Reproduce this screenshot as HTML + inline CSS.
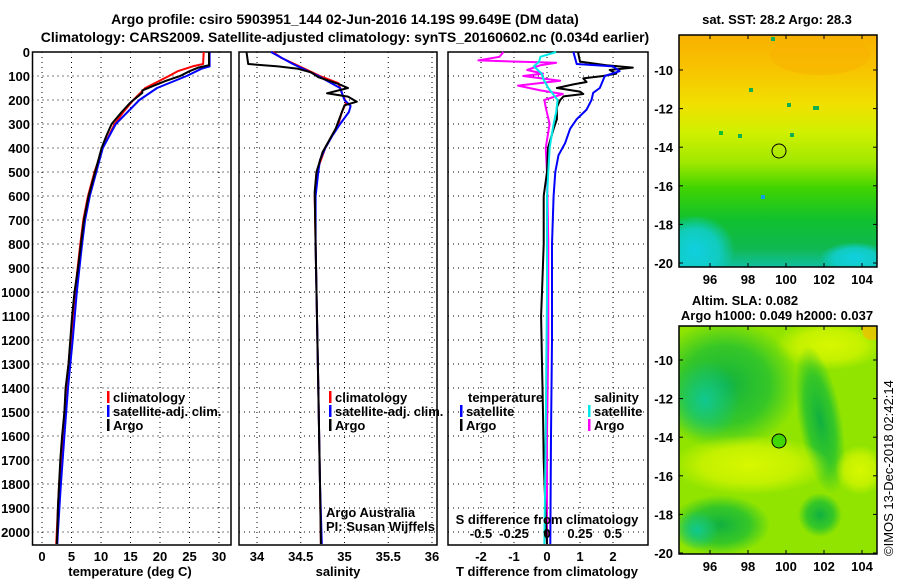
<!DOCTYPE html>
<html><head><meta charset="utf-8">
<style>
html,body{margin:0;padding:0;background:#fff;}
svg{display:block;font-family:"Liberation Sans",sans-serif;}
.t{font-weight:bold;font-size:13px;}
.tt{font-weight:bold;font-size:14px;}
.g{stroke:#000;stroke-width:1;stroke-dasharray:1,4;}
</style></head>
<body>
<svg id="c" width="900" height="580" viewBox="0 0 900 580">
<defs>
<clipPath id="c1"><rect x="679" y="35" width="198" height="232"/></clipPath>
<clipPath id="c2"><rect x="679" y="326" width="198" height="228"/></clipPath>
<linearGradient id="sst" x1="0" y1="0" x2="0" y2="1">
<stop offset="0" stop-color="#f8b000"/>
<stop offset="0.15" stop-color="#f8c400"/>
<stop offset="0.3" stop-color="#f0e000"/>
<stop offset="0.42" stop-color="#d0f000"/>
<stop offset="0.55" stop-color="#a0e800"/>
<stop offset="0.66" stop-color="#40d400"/>
<stop offset="0.8" stop-color="#10c030"/>
<stop offset="0.92" stop-color="#10b850"/>
<stop offset="1" stop-color="#10c0a0"/>
</linearGradient>
<radialGradient id="cy" cx="0.5" cy="0.5" r="0.5"><stop offset="0" stop-color="#10d0e0"/><stop offset="0.6" stop-color="#10d0d8" stop-opacity="0.8"/><stop offset="1" stop-color="#10d0e0" stop-opacity="0"/></radialGradient>
<radialGradient id="gr" cx="0.5" cy="0.5" r="0.5"><stop offset="0" stop-color="#10b040"/><stop offset="0.6" stop-color="#20c030" stop-opacity="0.8"/><stop offset="1" stop-color="#20c030" stop-opacity="0"/></radialGradient>
<radialGradient id="yl" cx="0.5" cy="0.5" r="0.5"><stop offset="0" stop-color="#d8f800"/><stop offset="0.6" stop-color="#d0f400" stop-opacity="0.8"/><stop offset="1" stop-color="#d0f400" stop-opacity="0"/></radialGradient>
<radialGradient id="tq" cx="0.5" cy="0.5" r="0.5"><stop offset="0" stop-color="#10c890"/><stop offset="1" stop-color="#10c890" stop-opacity="0"/></radialGradient>
</defs>
<g>
<text class="tt" x="345" y="24" text-anchor="middle">Argo profile: csiro 5903951_144 02-Jun-2016 14.19S 99.649E (DM data)</text>
<text class="tt" x="345" y="42" text-anchor="middle">Climatology: CARS2009. Satellite-adjusted climatology: synTS_20160602.nc (0.034d earlier)</text>
</g>
<g id="p1"></g>
<g id="p2"></g>
<g id="p3"></g>
<g id="m1">
<g clip-path="url(#c1)">
<rect x="679" y="35" width="198" height="232" fill="url(#sst)"/>
<ellipse cx="695" cy="250" rx="40" ry="35" fill="url(#cy)"/>
<ellipse cx="855" cy="258" rx="35" ry="16" fill="url(#cy)"/>
<ellipse cx="820" cy="55" rx="50" ry="20" fill="#f8b000" opacity="0.5"/>
<rect x="771" y="37" width="4" height="4" fill="#10b050"/>
<rect x="749" y="88" width="4" height="4" fill="#10b050"/>
<rect x="787" y="103" width="4" height="4" fill="#10b050"/>
<rect x="719" y="131" width="4" height="4" fill="#10c030"/>
<rect x="738" y="134" width="4" height="4" fill="#10b050"/>
<rect x="813" y="106" width="6" height="4" fill="#10b050"/>
<rect x="790" y="133" width="4" height="4" fill="#10b050"/>
<rect x="761" y="195" width="4" height="4" fill="#10a0e0"/>
</g>
<circle cx="779" cy="151" r="7" fill="none" stroke="#000" stroke-width="1"/>
<rect x="679" y="35" width="198" height="232" fill="none" stroke="#000" stroke-width="1.5"/>
<text class="t" x="777" y="24" text-anchor="middle">sat. SST: 28.2 Argo: 28.3</text>
</g>
<g id="m2">
<g clip-path="url(#c2)">
<rect x="679" y="326" width="198" height="228" fill="#90e400"/>
<ellipse cx="830" cy="345" rx="55" ry="25" fill="url(#yl)"/>
<ellipse cx="725" cy="385" rx="75" ry="65" fill="url(#gr)"/>
<ellipse cx="705" cy="400" rx="35" ry="40" fill="url(#tq)"/>
<ellipse cx="820" cy="420" rx="22" ry="75" fill="url(#gr)" transform="rotate(-10 820 420)"/>
<ellipse cx="750" cy="465" rx="80" ry="30" fill="url(#yl)"/>
<ellipse cx="860" cy="470" rx="25" ry="25" fill="url(#yl)"/>
<ellipse cx="720" cy="525" rx="50" ry="30" fill="url(#gr)"/>
<ellipse cx="697" cy="530" rx="22" ry="20" fill="url(#tq)"/>
<ellipse cx="820" cy="515" rx="22" ry="22" fill="url(#gr)"/>
<ellipse cx="872" cy="330" rx="10" ry="10" fill="#f0c000" opacity="0.8"/>
</g>
<circle cx="779" cy="441" r="7" fill="#40d800" stroke="#000" stroke-width="1"/>
<rect x="679" y="326" width="198" height="228" fill="none" stroke="#000" stroke-width="1.5"/>
<text class="t" x="745" y="305" text-anchor="middle">Altim. SLA: 0.082</text>
<text class="t" x="777" y="320" text-anchor="middle">Argo h1000: 0.049 h2000: 0.037</text>
</g>
<text x="893" y="556" font-size="13" transform="rotate(-90 893 556)">©IMOS 13-Dec-2018 02:42:14</text>
</svg>
<script>
// depth axis
const depthTicks=[0,100,200,300,400,500,600,700,800,900,1000,1100,1200,1300,1400,1500,1600,1700,1800,1900,2000];
const tempTicks=[0,5,10,15,20,25,30];
const salTicks=[34,34.5,35,35.5,36];
const tdiffTicks=[-2,-1,0,1,2];
const sdiffTicks=["-0.5","-0.25","0","0.25","0.5"];
const lonTicks=[96,98,100,102,104];
const latTicks=[-10,-12,-14,-16,-18,-20];
// temperature profiles
const tClimDepth=[0,50,60,80,100,150,200,250,300,400,500,600,700,800,1000,1200,1400,1600,1800,2000,2050];
const tClim=[27.4,27.3,25.5,23,21.5,17.5,15.5,13.8,12.3,10.3,8.9,7.8,7.0,6.5,5.6,4.9,4.1,3.5,2.9,2.5,2.4];
const tSatDepth=[0,60,70,100,150,200,250,300,400,500,600,700,800,1000,1200,1400,1600,1800,2000,2050];
const tSat=[28.4,28.4,27,24.5,19.5,16.5,14.5,12.5,10.3,9.2,8.1,7.3,6.8,5.9,5.2,4.4,3.8,3.2,2.7,2.6];
const tArgoDepth=[0,55,65,80,100,120,140,160,170,190,210,250,300,350,400,500,600,700,800,900,1000,1100,1200,1300,1400,1500,1600,1700,1800,1900,2000,2050];
const tArgo=[28.3,28.3,26.5,25,23.4,21,19,17,17,16,15,13.5,11.8,10.9,10.1,9.0,7.9,7.1,6.6,6.1,5.5,5.1,4.8,4.5,4.0,3.8,3.4,3.1,2.9,2.7,2.6,2.5];
// salinity profiles
const sClimDepth=[0,25,50,100,130,180,210,250,300,400,500,600,800,1000,1400,1800,2050];
const sClim=[34.18,34.28,34.43,34.72,34.93,34.98,35.02,34.97,34.93,34.78,34.68,34.66,34.67,34.68,34.70,34.72,34.73];
const sSatDepth=[0,50,100,150,200,225,250,300,350,400,450,500,600,800,1000,1400,1800,2050];
const sSat=[34.16,34.41,34.70,34.95,35.0,35.07,35.05,34.95,34.86,34.78,34.72,34.70,34.67,34.67,34.68,34.70,34.72,34.74];
const sArgoDepth=[0,50,60,70,85,105,133,150,172,186,207,222,250,319,417,500,583,800,1000,1400,1800,2050];
const sArgo=[33.88,33.9,34.24,34.47,34.62,34.70,34.93,35.04,34.80,35.04,35.14,35.0,34.97,34.9,34.75,34.68,34.66,34.67,34.68,34.70,34.72,34.73];
// differences from climatology
const dTArgoDepth=[0,40,55,65,75,90,100,110,125,135,150,165,175,185,200,230,280,320,400,500,600,800,1000,1100,1300,1500,1700,1900,2050];
const dTArgo=[0.94,1.0,1.8,2.6,1.9,2.1,1.7,1.1,1.2,0.8,0.3,1.0,1.1,0.5,0.4,0.3,0.3,0.2,0.03,0.0,-0.1,-0.1,-0.15,-0.18,-0.15,-0.12,-0.1,-0.05,0.0];
const dTSatDepth=[0,50,60,80,100,150,170,200,240,280,320,380,430,500,600,800,1200,1600,2050];
const dTSat=[0.8,0.9,2.0,2.2,1.75,1.6,1.4,1.35,1.2,0.9,0.7,0.55,0.35,0.25,0.2,0.15,0.15,0.12,0.1];
const dSArgoDepth=[0,20,35,45,55,75,90,100,120,140,160,175,200,230,300,400,500,800,1200,1600,2050];
const dSArgo=[-0.33,-0.36,-0.52,0.07,-0.05,-0.15,-0.03,-0.18,0.1,-0.22,-0.05,0.12,-0.02,-0.01,0.02,-0.01,0.0,0.01,0.01,0.0,0.0];
const dSSatDepth=[0,20,40,60,90,110,150,200,250,300,400,500,600,1000,1600,2050];
const dSSat=[0.07,-0.05,-0.06,-0.1,-0.04,-0.03,0.01,0.08,0.07,0.05,0.02,0.01,0.0,0.0,-0.01,-0.02];

const NS='http://www.w3.org/2000/svg';
function mk(tag,attrs,parent){const e=document.createElementNS(NS,tag);for(const k in attrs)e.setAttribute(k,attrs[k]);parent.appendChild(e);return e;}
const yD=d=>52+d*0.24;
const xT=v=>42+v*5.9;
const xS=v=>257+(v-34)*87.5;
const xTD=v=>547+v*33;
const xSD=v=>547+v*132;
const TOP=52,BOT=545;

function frame(g,x0,x1,vx,vt,lbl){
  depthTicks.forEach(d=>{const l=mk('line',{x1:x0,x2:x1,y1:yD(d),y2:yD(d),class:'g'},g);
    
    });
  vt.forEach(v=>{const x=vx(v);const l=mk('line',{x1:x,x2:x,y1:TOP,y2:BOT,class:'g'},g);
    
    
    if(lbl){const t=mk('text',{x:x,y:561,class:'t','text-anchor':'middle'},g);t.textContent=String(v);
    
    }});
  const r=mk('rect',{x:x0,y:TOP,width:x1-x0,height:BOT-TOP,fill:'none',stroke:'#000','stroke-width':1.5},g);
  
  
}
function line(g,ds,vs,fx,color,name,w){
  const pts=ds.map((d,i)=>fx(vs[i]).toFixed(1)+','+yD(d).toFixed(1)).join(' ');
  const p=mk('polyline',{points:pts,fill:'none',stroke:color,'stroke-width':w||2,'stroke-linejoin':'round'},g);
  
  
}
function legend(g,x,y,color,txt,name){
  const m=mk('rect',{x:x,y:y-11,width:2.5,height:12,fill:color},g);
  
  
  const t=mk('text',{x:x+6,y:y,class:'t'},g);t.textContent=txt;
  
  
}
function txt(g,x,y,s,name,anchor,cls){
  const t=mk('text',{x:x,y:y,class:cls||'t','text-anchor':anchor||'start'},g);t.textContent=s;
  
  
  return t;
}
const p1=document.getElementById('p1'),p2=document.getElementById('p2'),p3=document.getElementById('p3');
// panel 1
frame(p1,32.5,231,xT,tempTicks,true);
depthTicks.forEach(d=>txt(p1,30,yD(d)+5,String(d),'depth-tick-label','end'));
line(p1,tClimDepth,tClim,xT,'#ff0000','climatology-temperature-line');
line(p1,tSatDepth,tSat,xT,'#0000ff','satellite-temperature-line');
line(p1,tArgoDepth,tArgo,xT,'#000000','argo-temperature-line');
legend(p1,107,402,'#ff0000','climatology','legend-climatology');
legend(p1,107,416,'#0000ff','satellite-adj. clim.','legend-satellite');
legend(p1,107,430,'#000000','Argo','legend-argo');
txt(p1,130,576,'temperature (deg C)','x-axis-title','middle');
// panel 2
frame(p2,239,437,xS,salTicks,true);
line(p2,sClimDepth,sClim,xS,'#ff0000','climatology-salinity-line');
line(p2,sSatDepth,sSat,xS,'#0000ff','satellite-salinity-line');
line(p2,sArgoDepth,sArgo,xS,'#000000','argo-salinity-line');
legend(p2,329,402,'#ff0000','climatology','legend-climatology');
legend(p2,329,416,'#0000ff','satellite-adj. clim.','legend-satellite');
legend(p2,329,430,'#000000','Argo','legend-argo');
txt(p2,326,517,'Argo Australia','credit-text','start','').setAttribute('font-size','12');
txt(p2,326,531,'PI: Susan Wijffels','credit-pi','start','').setAttribute('font-size','12');
txt(p2,338,576,'salinity','x-axis-title','middle');
// panel 3
frame(p3,448,648,xTD,tdiffTicks,true);
line(p3,dSArgoDepth,dSArgo,xSD,'#ff00ff','argo-salinity-diff-line');
line(p3,dTArgoDepth,dTArgo,xTD,'#000000','argo-temperature-diff-line');
line(p3,dTSatDepth,dTSat,xTD,'#0000ff','satellite-temperature-diff-line');
line(p3,dSSatDepth,dSSat,xSD,'#00e8e8','satellite-salinity-diff-line');
txt(p3,468,402,'temperature','legend-temperature-header');
legend(p3,460,416,'#0000ff','satellite','legend-temp-satellite');
legend(p3,460,430,'#000000','Argo','legend-temp-argo');
txt(p3,594,402,'salinity','legend-salinity-header');
legend(p3,588,416,'#00e8e8','satellite','legend-sal-satellite');
legend(p3,588,430,'#ff00ff','Argo','legend-sal-argo');
txt(p3,547,524,'S difference from climatology','s-axis-title','middle');
sdiffTicks.forEach(s=>txt(p3,xSD(parseFloat(s)),538,s,'s-tick-label','middle'));
txt(p3,547,576,'T difference from climatology','x-axis-title','middle');
// maps
const m1=document.getElementById('m1'),m2=document.getElementById('m2');
function mapAxes(g,top,lat10,pxLat,bottom){
  latTicks.forEach(l=>{const y=lat10+(-10-l)*pxLat;
    txt(g,673,y+5,String(l),'lat-tick-label','end');
    const a=mk('line',{x1:679,x2:683,y1:y,y2:y,stroke:'#000'},g);
    const b=mk('line',{x1:873,x2:877,y1:y,y2:y,stroke:'#000'},g);});
  lonTicks.forEach(l=>{const x=710+(l-96)*19;
    txt(g,x,bottom+17,String(l),'lon-tick-label','middle');
    const a=mk('line',{x1:x,x2:x,y1:bottom-4,y2:bottom,stroke:'#000'},g);
    const b=mk('line',{x1:x,x2:x,y1:top,y2:top+4,stroke:'#000'},g);});
}
mapAxes(m1,35,70,19.3,267);
mapAxes(m2,326,360,19.3,554);
</script>
</body></html>
